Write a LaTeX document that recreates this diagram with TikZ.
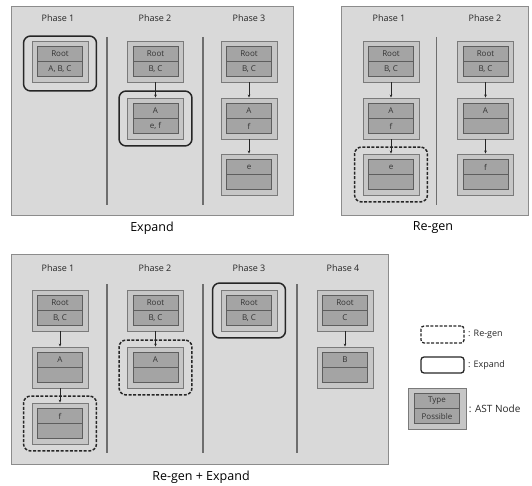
\documentclass[tikz,border=0pt]{standalone}
\usepackage{fontspec}
\setmainfont{Open Sans}
\usetikzlibrary{fit,arrows.meta}
\definecolor{panelbg}{HTML}{D9D9D9}
\definecolor{panelline}{HTML}{8C8C8C}
\definecolor{outerfill}{HTML}{C6C6C6}
\definecolor{outerline}{HTML}{7A7A7A}
\definecolor{cellfill}{HTML}{A4A4A4}
\definecolor{cellline}{HTML}{5E5E5E}
\definecolor{divline}{HTML}{6E6E6E}
\tikzset{
  panel/.style={draw=panelline, fill=panelbg, line width=0.8pt},
  divider/.style={draw=divline, line width=1.3pt},
  astouter/.style={rectangle, draw=outerline, fill=outerfill, line width=0.9pt,
    minimum width=56pt, minimum height=41pt, inner sep=0pt},
  astcell/.style={rectangle, draw=cellline, fill=cellfill, line width=0.7pt,
    minimum width=45pt, minimum height=15pt, inner sep=0pt,
    font=\fontsize{8}{9}\selectfont, text=black!80},
  phaselbl/.style={font=\fontsize{9}{10}\selectfont, text=black!85},
  caption/.style={font=\fontsize{12.5}{14}\selectfont},
  expbox/.style={rectangle, draw=black!85, line width=1.5pt, rounded corners=7pt,
    inner xsep=8pt, inner ysep=6.5pt},
  regenbox/.style={rectangle, draw=black!85, line width=1.5pt, dashed, dash pattern=on 3pt off 1.6pt,
    rounded corners=7pt, inner xsep=8pt, inner ysep=6.5pt},
  arr/.style={draw=black!85, line width=0.6pt, -{Stealth[length=3pt,width=2.6pt]}},
  legtext/.style={anchor=west, font=\fontsize{9}{10}\selectfont, text=black!85},
}
\newcommand\astbox[5]{%
  \node[astouter] (#1) at (#2,#3) {};
  \node[astcell] (#1t) at ([yshift=-13.5pt]#1.north) {#4};
  \node[astcell] (#1p) at ([yshift=-28.5pt]#1.north) {#5};
}
\begin{document}
\begin{tikzpicture}[x=1pt,y=-1pt]
\useasboundingbox (0,0) rectangle (532,486);
% ---------- Panel 1: Expand
\path[panel] (11,6) rectangle (293,215);
\node[phaselbl] (a1l) at (58,18) {Phase 1};
\node[phaselbl] (a2l) at (155,18) {Phase 2};
\node[phaselbl] (a3l) at (249,18) {Phase 3};
\draw[divider] (107,37) -- (107,205);
\draw[divider] (203,37) -- (203,205);
\astbox{a1r}{60}{61.5}{Root}{A, B, C}
\astbox{a2r}{155.5}{61.5}{Root}{B, C}
\astbox{a2a}{155.5}{118.5}{A}{e, f}
\astbox{a3r}{249}{61.5}{Root}{B, C}
\astbox{a3a}{249}{118.5}{A}{f}
\astbox{a3e}{249}{174.5}{e}{}
\draw[arr] (a2r.south) -- (a2a.north);
\draw[arr] (a3r.south) -- (a3a.north);
\draw[arr] (a3a.south) -- (a3e.north);
\node[expbox, fit=(a1r), yshift=-2pt] (a1x) {};
\node[expbox, fit=(a2a)] (a2x) {};
\node[caption] (acap) at (152,228) {Expand};
% ---------- Panel 2: Re-gen
\path[panel] (341,6) rectangle (528,215);
\node[phaselbl] (b1l) at (389,18) {Phase 1};
\node[phaselbl] (b2l) at (485,18) {Phase 2};
\draw[divider] (436.5,37) -- (436.5,205);
\astbox{b1r}{391}{61.5}{Root}{B, C}
\astbox{b1a}{391}{118.5}{A}{f}
\astbox{b1e}{391}{174.5}{e}{}
\astbox{b2r}{485.5}{61.5}{Root}{B, C}
\astbox{b2a}{485.5}{118.5}{A}{}
\astbox{b2f}{485.5}{174.5}{f}{}
\draw[arr] (b1r.south) -- (b1a.north);
\draw[arr] (b1a.south) -- (b1e.north);
\draw[arr] (b2r.south) -- (b2a.north);
\draw[arr] (b2a.south) -- (b2f.north);
\node[regenbox, fit=(b1e)] (b1x) {};
\node[caption] (bcap) at (433,228) {Re-gen};
% ---------- Panel 3: Re-gen + Expand
\path[panel] (11,254) rectangle (388,464);
\node[phaselbl] (c1l) at (58,268) {Phase 1};
\node[phaselbl] (c2l) at (155,268) {Phase 2};
\node[phaselbl] (c3l) at (249,268) {Phase 3};
\node[phaselbl] (c4l) at (343,268) {Phase 4};
\draw[divider] (107,284) -- (107,453);
\draw[divider] (203,284) -- (203,453);
\draw[divider] (297,284) -- (297,453);
\astbox{c1r}{60}{310.5}{Root}{B, C}
\astbox{c1a}{60}{367.5}{A}{}
\astbox{c1f}{60}{423.5}{f}{}
\astbox{c2r}{155.5}{310.5}{Root}{B, C}
\astbox{c2a}{155.5}{367.5}{A}{}
\astbox{c3r}{249}{310.5}{Root}{B, C}
\astbox{c4r}{345}{310.5}{Root}{C}
\astbox{c4b}{345}{367.5}{B}{}
\draw[arr] (c1r.south) -- (c1a.north);
\draw[arr] (c1a.south) -- (c1f.north);
\draw[arr] (c2r.south) -- (c2a.north);
\draw[arr] (c4r.south) -- (c4b.north);
\node[regenbox, fit=(c1f)] (c1x) {};
\node[regenbox, fit=(c2a)] (c2x) {};
\node[expbox, fit=(c3r)] (c3x) {};
\node[caption] (ccap) at (201,477) {Re-gen + Expand};
% ---------- Legend
\node[rectangle, draw=black!85, line width=1.3pt, dash pattern=on 3pt off 1.6pt,
  rounded corners=3pt, minimum width=43pt, minimum height=17pt] (lg1) at (442.5,334.5) {};
\node[legtext] (lg1t) at ([xshift=0pt]lg1.east) {: Re-gen};
\node[rectangle, draw=black!85, line width=1.3pt, rounded corners=3pt,
  minimum width=43pt, minimum height=16pt] (lg2) at (442.5,365) {};
\node[legtext] (lg2t) at ([xshift=0pt]lg2.east) {: Expand};
\node[astouter, minimum width=58pt] (lg3) at (437,408.5) {};
\node[astcell] (lg3t) at ([yshift=-13.5pt]lg3.north) {Type};
\node[astcell] (lg3p) at ([yshift=-28.5pt]lg3.north) {Possible};
\node[legtext, font=\fontsize{10}{12}\selectfont] (lg3l) at ([xshift=-1pt]lg3.east) {: AST Node};
\end{tikzpicture}
\end{document}
